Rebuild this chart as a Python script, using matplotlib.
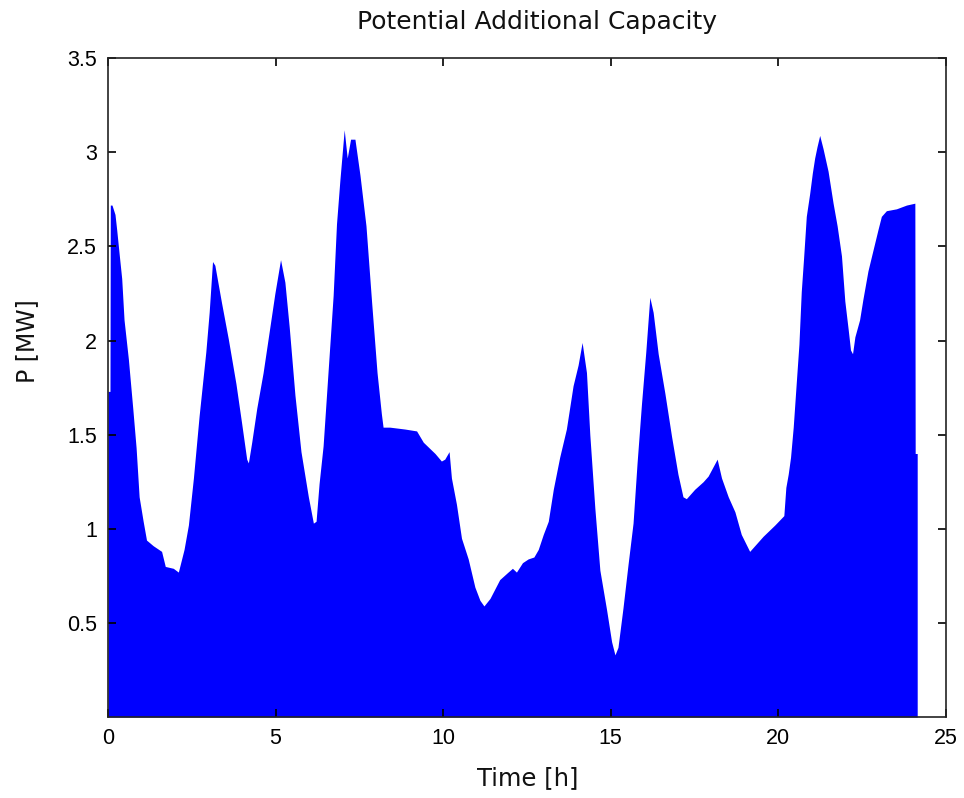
import matplotlib
matplotlib.use("Agg")
import matplotlib.pyplot as plt
import numpy as np

# Potential additional capacity over the day (time in hours, power in MW)
time_h = [
    0.00, 0.06, 0.07, 0.12, 0.21, 0.26, 0.34, 0.41, 0.48, 0.61, 0.74, 0.84,
    0.93, 1.05, 1.15, 1.35, 1.60, 1.71, 1.95, 2.10, 2.27, 2.40, 2.55, 2.72,
    2.92, 3.02, 3.12, 3.19, 3.39, 3.59, 3.82, 3.99, 4.14, 4.19, 4.29, 4.44,
    4.63, 4.83, 4.98, 5.15, 5.28, 5.41, 5.58, 5.76, 5.98, 6.13, 6.21, 6.30,
    6.42, 6.60, 6.72, 6.82, 6.92, 7.05, 7.14, 7.24, 7.37, 7.52, 7.70, 7.87,
    8.03, 8.16, 8.21, 8.41, 8.86, 9.21, 9.41, 9.76, 9.95, 10.05, 10.18, 10.25,
    10.40, 10.55, 10.75, 10.95, 11.10, 11.22, 11.40, 11.69, 11.94, 12.07, 12.19,
    12.37, 12.54, 12.71, 12.84, 12.99, 13.14, 13.29, 13.48, 13.68, 13.88, 14.03,
    14.15, 14.28, 14.38, 14.53, 14.68, 14.88, 15.03, 15.13, 15.22, 15.37, 15.52,
    15.67, 15.79, 15.92, 16.05, 16.17, 16.27, 16.42, 16.62, 16.82, 17.01, 17.16,
    17.26, 17.51, 17.76, 17.91, 18.06, 18.18, 18.31, 18.51, 18.71, 18.90, 19.15,
    19.30, 19.55, 19.90, 20.17, 20.23, 20.30, 20.37, 20.45, 20.55, 20.62, 20.69,
    20.76, 20.84, 20.94, 21.02, 21.09, 21.16, 21.24, 21.34, 21.49, 21.64, 21.76,
    21.89, 21.99, 22.09, 22.16, 22.22, 22.29, 22.43, 22.53, 22.68, 22.83, 22.98,
    23.08, 23.23, 23.53, 23.83, 24.08, 24.09, 24.15,
]
power_mw = [
    1.73, 1.73, 2.72, 2.72, 2.67, 2.59, 2.45, 2.33, 2.11, 1.90, 1.64, 1.43,
    1.17, 1.04, 0.94, 0.91, 0.88, 0.80, 0.79, 0.77, 0.89, 1.02, 1.27, 1.60,
    1.94, 2.15, 2.42, 2.40, 2.20, 2.01, 1.77, 1.56, 1.37, 1.35, 1.46, 1.64,
    1.83, 2.07, 2.25, 2.43, 2.31, 2.07, 1.71, 1.41, 1.17, 1.03, 1.04, 1.24,
    1.44, 1.92, 2.24, 2.62, 2.85, 3.12, 2.97, 3.07, 3.07, 2.88, 2.61, 2.20,
    1.83, 1.61, 1.54, 1.54, 1.53, 1.52, 1.46, 1.40, 1.36, 1.37, 1.41, 1.27,
    1.13, 0.95, 0.84, 0.69, 0.62, 0.59, 0.63, 0.73, 0.77, 0.79, 0.77,
    0.82, 0.84, 0.85, 0.89, 0.97, 1.04, 1.21, 1.38, 1.53, 1.76, 1.87,
    1.99, 1.83, 1.50, 1.11, 0.78, 0.57, 0.40, 0.33, 0.37, 0.58, 0.81,
    1.03, 1.35, 1.66, 1.94, 2.23, 2.15, 1.93, 1.72, 1.49, 1.29, 1.17,
    1.16, 1.21, 1.25, 1.28, 1.33, 1.37, 1.27, 1.17, 1.09, 0.97, 0.88,
    0.91, 0.96, 1.02, 1.07, 1.22, 1.29, 1.38, 1.54, 1.80, 1.98, 2.26,
    2.44, 2.66, 2.78, 2.89, 2.97, 3.03, 3.09, 3.02, 2.90, 2.73, 2.61,
    2.45, 2.21, 2.06, 1.95, 1.93, 2.02, 2.11, 2.22, 2.37, 2.48, 2.59,
    2.66, 2.69, 2.70, 2.72, 2.73, 1.40, 1.40,
]

x_ticks = [0, 5, 10, 15, 20, 25]
y_ticks = [0.5, 1, 1.5, 2, 2.5, 3, 3.5]
y_tick_labels = ["0.5", "1", "1.5", "2", "2.5", "3", "3.5"]

plt.rcParams["font.family"] = ["Liberation Sans", "DejaVu Sans"]

fig = plt.figure(figsize=(9.64, 7.98), dpi=100)
ax = fig.add_axes([0.112, 0.1015, 0.869, 0.8255])

t = np.asarray(time_h)
p = np.asarray(power_mw)
ax.fill_between(t, 0, p, color="#0000ff", linewidth=0, antialiased=True)

ax.set_xlim(0, 25)
ax.set_ylim(0, 3.5)
ax.set_xticks(x_ticks)
ax.set_yticks(y_ticks)
ax.set_yticklabels(y_tick_labels)

ax.tick_params(direction="in", length=6, width=1.2, top=True, right=True,
               labelsize=15.5, pad=8, colors="black")
for spine in ax.spines.values():
    spine.set_linewidth(1.2)
    spine.set_color("#222222")

label_font = dict(family=["DejaVu Sans"], color="#111111")
fig.text(0.557, 0.972, "Potential Additional Capacity", ha="center",
         va="center", fontsize=18, **label_font)
fig.text(0.5475, 0.025, "Time [h]", ha="center", va="center", fontsize=17.5,
         **label_font)
fig.text(0.028, 0.573, "P [MW]", ha="center", va="center", rotation=90,
         fontsize=17, **label_font)

fig.savefig("out.png", dpi=100)
